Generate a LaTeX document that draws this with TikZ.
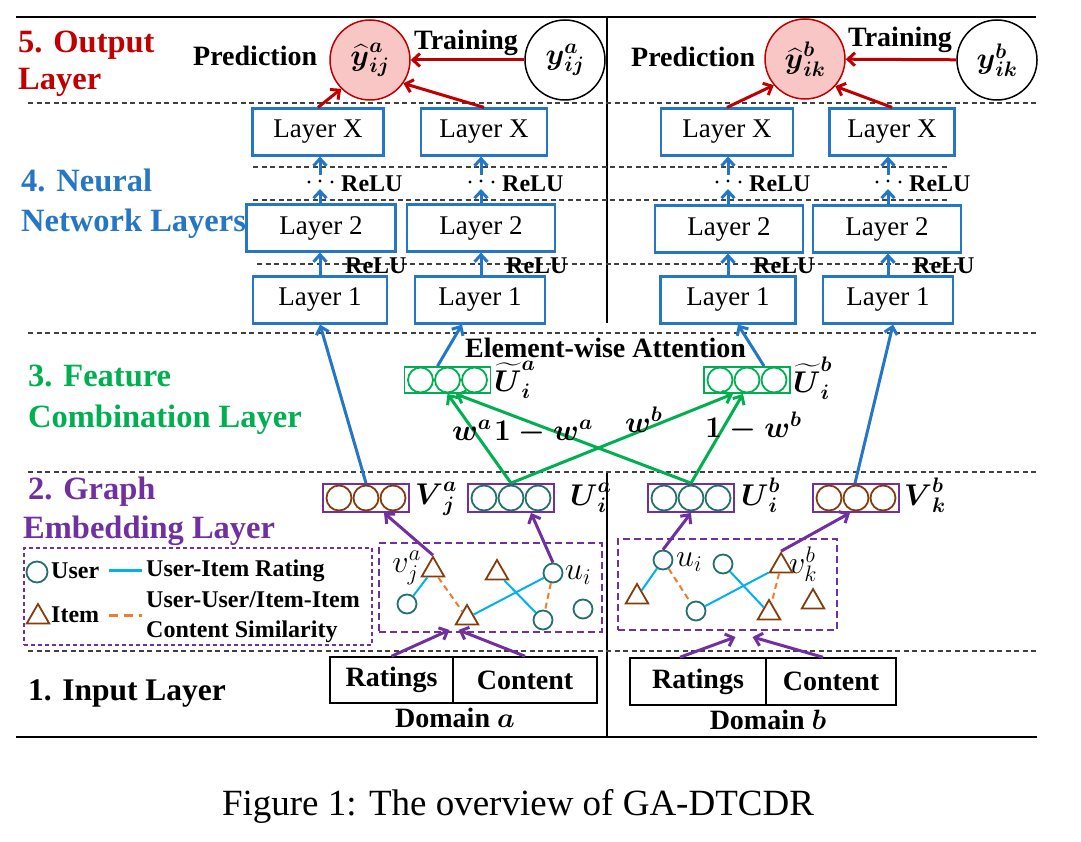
\RequirePackage{fix-cm}
\documentclass[tikz,border=0pt]{standalone}
\usepackage{amsmath}
\usepackage{fontspec}
\setmainfont{Liberation Serif}
\usetikzlibrary{arrows.meta,shapes.geometric,calc}
\definecolor{cred}{HTML}{C00000}
\definecolor{cpink}{HTML}{F9C6C6}
\definecolor{cblue}{HTML}{2576C4}
\definecolor{cgreen}{HTML}{00B050}
\definecolor{cpurple}{HTML}{7030A0}
\definecolor{cteal}{HTML}{23706E}
\definecolor{cbrown}{HTML}{843C0C}
\definecolor{ccyan}{HTML}{00B0F0}
\definecolor{corange}{HTML}{ED7D31}
\newcommand{\myfs}[1]{\fontsize{#1}{#1}\selectfont}
\newcommand{\bsy}[1]{\boldsymbol{#1}}
\newcommand{\embrow}[6]{% name, x, y, height, boxcolor, circlecolor
  \node[draw=#5, line width=1.8pt, minimum width=86, minimum height=#4, inner sep=0] (#1) at (#2,#3) {};
  \foreach \dx in {-27,0,27} {\draw[#6, line width=1.8pt] (#2+\dx,#3) circle (12.5pt);}
}
\begin{document}
\begin{tikzpicture}[x=1pt,y=-1pt,
  sep/.style={draw=black!75, line width=1.2pt, dash pattern=on 5pt off 3.5pt},
  solidline/.style={draw=black, line width=2.6pt},
  title/.style={font=\myfs{32.5}\bfseries, inner sep=0, anchor=base west},
  lab/.style={font=\myfs{28}\bfseries, inner sep=0, anchor=base west},
  relu/.style={font=\myfs{24}\bfseries, inner sep=0, anchor=base west},
  mlab/.style={font=\myfs{30}, inner sep=0, anchor=base west},
  glab/.style={font=\myfs{32}, inner sep=0},
  leg/.style={font=\myfs{24}\bfseries, inner sep=0, anchor=base west},
  layerbox/.style={draw=cblue, line width=2.2pt, minimum height=47, inner sep=0, font=\myfs{27}},
  inbox/.style={draw=black, line width=1.5pt, minimum height=46, inner sep=0, font=\myfs{28}\bfseries},
  tip/.style={-{Straight Barb[length=7pt,width=13pt]}},
  barrow/.style={tip, draw=cblue, line width=3pt},
  rarrow/.style={tip, draw=cred, line width=3pt},
  garrow/.style={tip, draw=cgreen, line width=3pt},
  parrow/.style={tip, draw=cpurple, line width=3pt},
  usr/.style={circle, draw=cteal, line width=1.8pt, minimum size=19, inner sep=0},
  itm/.style={regular polygon, regular polygon sides=3, draw=cbrown, line width=1.8pt, minimum size=26, inner sep=0},
  rate/.style={draw=ccyan, line width=2pt},
  simi/.style={draw=corange, line width=2pt, dash pattern=on 6pt off 4pt},
  gbox/.style={draw=cpurple, line width=2pt, dash pattern=on 7pt off 4pt, inner sep=0},
  ddot/.style={fill=black},
  ocirc/.style={circle, line width=1.5pt, minimum size=80, inner sep=0, font=\myfs{30}}
]
\useasboundingbox (0,0) rectangle (1081,842);

% frame lines
\draw[solidline] (16,17) -- (1036,17);
\draw[solidline] (16,737) -- (1037,737);
\draw[draw=black, line width=2.2pt] (607,17) -- (607,323);
\draw[draw=black, line width=2.2pt] (607,472) -- (607,737);
\draw[sep] (28,103) -- (1036,103);
\draw[sep] (253,167) -- (947,167);
\draw[sep] (253,200) -- (947,200);
\draw[sep] (257,264) -- (960,264);
\draw[sep] (28,333) -- (1036,333);
\draw[sep] (28,472) -- (1036,472);
\draw[sep] (28,651) -- (1037,651);

% section titles
\node[title, text=cred] (t5a) at (18,53) {5. Output};
\node[title, text=cred] (t5b) at (18,90) {Layer};
\node[title, text=cblue] (t4a) at (21,192) {4. Neural};
\node[title, text=cblue] (t4b) at (21,232) {Network Layers};
\node[title, text=cgreen] (t3a) at (28,386) {3. Feature};
\node[title, text=cgreen] (t3b) at (28,427) {Combination Layer};
\node[title, text=cpurple] (t2a) at (28,499) {2. Graph};
\node[title, text=cpurple] (t2b) at (23,538) {Embedding Layer};
\node[title, text=black, font=\myfs{31.5}\bfseries] (t1) at (28,700) {1. Input Layer};

% output layer
\node[lab] (predA) at (193,66) {Prediction};
\node[lab] (trainA) at (414,50) {Training};
\node[lab] (predB) at (631,67) {Prediction};
\node[lab] (trainB) at (848,47) {Training};
\node[ocirc, draw=cred, fill=cpink] (yhA) at (370,60) {$\bsy{\widehat{y}}^{\bsy{a}}_{\bsy{ij}}$};
\node[ocirc, draw=black] (yA) at (565,60) {$\bsy{y}^{\bsy{a}}_{\bsy{ij}}$};
\node[ocirc, draw=cred, fill=cpink] (yhB) at (805,59) {$\bsy{\widehat{y}}^{\bsy{b}}_{\bsy{ik}}$};
\node[ocirc, draw=black] (yB) at (997,60) {$\bsy{y}^{\bsy{b}}_{\bsy{ik}}$};
\draw[rarrow] (yA) -- (yhA);
\draw[rarrow] (yB) -- (yhB);

% neural layers
\node[layerbox, minimum width=131] (lxa) at (318,132) {Layer X};
\node[layerbox, minimum width=126] (lxb) at (484,132) {Layer X};
\node[layerbox, minimum width=132] (lxc) at (727,132) {Layer X};
\node[layerbox, minimum width=125] (lxd) at (892,132) {Layer X};
\node[layerbox, minimum width=149] (l2a) at (321,228) {Layer 2};
\node[layerbox, minimum width=148] (l2b) at (481,228) {Layer 2};
\node[layerbox, minimum width=148] (l2c) at (729,229) {Layer 2};
\node[layerbox, minimum width=148] (l2d) at (887,229) {Layer 2};
\node[layerbox, minimum width=134] (l1a) at (320,300) {Layer 1};
\node[layerbox, minimum width=130] (l1b) at (480,300) {Layer 1};
\node[layerbox, minimum width=135] (l1c) at (728,300) {Layer 1};
\node[layerbox, minimum width=130] (l1d) at (888,300) {Layer 1};

\draw[rarrow] (lxa.north) -- (yhA.-135);
\draw[rarrow] (lxb.north) -- (yhA.-35);
\draw[rarrow] (lxc.north) -- (yhB.-140);
\draw[rarrow] (lxd.north) -- (yhB.-42);

\foreach \c/\n in {320/a,481/b,728/c,888/d}{
  \coordinate (dlo\n) at (\c,189);
  \coordinate (dhi\n) at (\c,175);
  \fill[ddot] (\c-11,182) circle (1.7pt);
  \fill[ddot] (\c+12,182) circle (1.7pt);
  \fill[ddot] (\c,181) circle (1.7pt);
  \draw[barrow] (l2\n.north -| dlo\n) -- (dlo\n);
  \draw[barrow] (dhi\n) -- (lx\n.south -| dhi\n);
  \draw[barrow] (l1\n.north -| dlo\n) -- (l2\n.south -| dlo\n);
  \node[relu] (rh\n) at (\c+21,192) {ReLU};
  \node[relu] (rl\n) at (\c+25,273) {ReLU};
}

% feature combination
\node[lab] (att) at (465,357) {Element-wise Attention};
\embrow{tUa}{447.5}{380}{26}{cgreen}{cgreen}
\embrow{tUb}{747}{380}{26}{cgreen}{cgreen}
\node[mlab] (ltUa) at (494,391) {$\bsy{\widetilde{U}}^{\bsy{a}}_{\bsy{i}}$};
\node[mlab] (ltUb) at (793,392) {$\bsy{\widetilde{U}}^{\bsy{b}}_{\bsy{i}}$};

% graph embedding rows
\embrow{Va}{366}{498}{28}{cpurple}{cbrown}
\embrow{Ua}{511}{498}{28}{cpurple}{cteal}
\embrow{Ub}{691}{498}{28}{cpurple}{cteal}
\embrow{Vb}{856}{498}{28}{cpurple}{cbrown}
\node[mlab] (lVa) at (415,504) {$\bsy{V}^{\bsy{a}}_{\bsy{j}}$};
\node[mlab] (lUa) at (570,505) {$\bsy{U}^{\bsy{a}}_{\bsy{i}}$};
\node[mlab] (lUb) at (741,505) {$\bsy{U}^{\bsy{b}}_{\bsy{i}}$};
\node[mlab] (lVb) at (904,505) {$\bsy{V}^{\bsy{b}}_{\bsy{k}}$};

\draw[garrow] (Ua.north) -- (tUa.south);
\draw[garrow] (Ua.north) -- ($(tUb.south)+(-14,0)$);
\draw[garrow] (Ub.north) -- ($(tUa.south)+(8,0)$);
\draw[garrow] (Ub.north) -- ($(tUb.south)+(-4,0)$);
\node[mlab] (wa) at (452,440) {$\bsy{w^a}$};
\node[mlab] (wa1) at (494,440) {$\bsy{1-w^a}$};
\node[mlab] (wb) at (625,432) {$\bsy{w^b}$};
\node[mlab] (wb1) at (705,437) {$\bsy{1-w^b}$};

\draw[barrow] (Va.north) -- (l1a.south);
\draw[barrow] ($(tUa.north)+(-10,0)$) -- ($(l1b.south)+(-18,0)$);
\draw[barrow] ($(tUb.north)+(17,0)$) -- ($(l1c.south)+(10,0)$);
\draw[barrow] ($(Vb.north)+(-1,0)$) -- ($(l1d.south)+(5,0)$);

% legend
\node[gbox, line width=1.3pt, dash pattern=on 4pt off 3pt, minimum width=348, minimum height=97] (leg) at (198,596.5) {};
\node[usr, minimum size=21] (lgu) at (37,572) {};
\node[leg] (lgut) at (51,578) {User};
\coordinate (lr1) at (109,570); \coordinate (lr2) at (142,570);
\draw[rate, line width=3pt] (lr1) -- (lr2);
\node[leg] (lgrt) at (146,576) {User-Item Rating};
\node[itm] (lgi) at (38,617) {};
\node[leg] (lgit) at (51,622) {Item};
\coordinate (ls1) at (109,615); \coordinate (ls2) at (142,615);
\draw[simi, line width=3pt, dash pattern=on 9pt off 6pt] (ls1) -- (ls2);
\node[leg] (lgst1) at (146,607) {User-User/Item-Item};
\node[leg] (lgst2) at (146,637) {Content Similarity};

% graph domain a
\node[gbox, minimum width=223, minimum height=89] (ga) at (490.5,587.5) {};
\node[itm] (ta1) at (433,570) {};
\node[itm] (ta2) at (497,573) {};
\node[usr] (ua1) at (553,573) {};
\node[usr] (ua2) at (407,604) {};
\node[itm] (ta3) at (467,618) {};
\node[usr] (ua3) at (543,620) {};
\node[usr] (ua4) at (583,609) {};
\node[glab, anchor=east] (lva) at (421,568) {$v_j^a$};
\node[glab, anchor=west] (lua) at (565,575) {$u_i$};
\draw[rate] (ta1) -- (ua2);
\draw[simi] (ta1) -- (ta3);
\draw[rate] (ta3) -- (ua1);
\draw[rate] (ta2) -- (ua3);
\draw[simi] (ua1) -- (ua3);

% graph domain b
\node[gbox, minimum width=219, minimum height=91] (gb) at (727.5,584.5) {};
\node[usr] (ub1) at (663,560) {};
\node[usr] (ub2) at (723,564) {};
\node[itm] (tb1) at (781,566) {};
\node[itm] (tb2) at (637,597) {};
\node[usr] (ub3) at (696,611) {};
\node[itm] (tb3) at (769,613) {};
\node[itm] (tb4) at (813,602) {};
\node[glab, anchor=west] (lub) at (676,562) {$u_i$};
\node[glab, anchor=west] (lvb) at (789,564) {$v_k^b$};
\draw[rate] (ub1) -- (tb2);
\draw[simi] (ub1) -- (ub3);
\draw[rate] (ub3) -- (tb1);
\draw[rate] (ub2) -- (tb3);
\draw[simi] (tb1) -- (tb3);

% graph to embedding
\draw[parrow] (ta1.north) -- ($(Va.south)+(18,0)$);
\draw[parrow] (ua1.north) -- ($(Ua.south)+(20,0)$);
\draw[parrow] (ub1.north) -- (Ub.south);
\draw[parrow] (tb1.north) -- ($(Vb.south)+(-6,0)$);

% input layer
\node[inbox, minimum width=123] (ra) at (391.5,680) {Ratings};
\node[inbox, minimum width=144] (ca) at (525,680) {Content};
\node[inbox, minimum width=136, minimum height=47] (rb) at (698,681.5) {Ratings};
\node[inbox, minimum width=130, minimum height=47] (cb) at (831,681.5) {Content};
\node[font=\myfs{28}\bfseries, inner sep=0, anchor=base] (doma) at (455,727) {Domain $\bsy{a}$};
\node[font=\myfs{28}\bfseries, inner sep=0, anchor=base] (domb) at (768,729) {Domain $\bsy{b}$};
\draw[parrow] (ra.north) -- ($(ga.south)+(-41,-3)$);
\draw[parrow] (ca.north) -- ($(ga.south)+(-32,-3)$);
\draw[parrow] ($(rb.north)+(-18,0)$) -- ($(gb.south)+(8,6)$);
\draw[parrow] ($(cb.north)+(-8,0)$) -- ($(gb.south)+(25,6)$);

% caption
\node[font=\myfs{37}, inner sep=0, anchor=base] (cap) at (518,815) {Figure 1: The overview of GA-DTCDR};
\end{tikzpicture}
\end{document}
